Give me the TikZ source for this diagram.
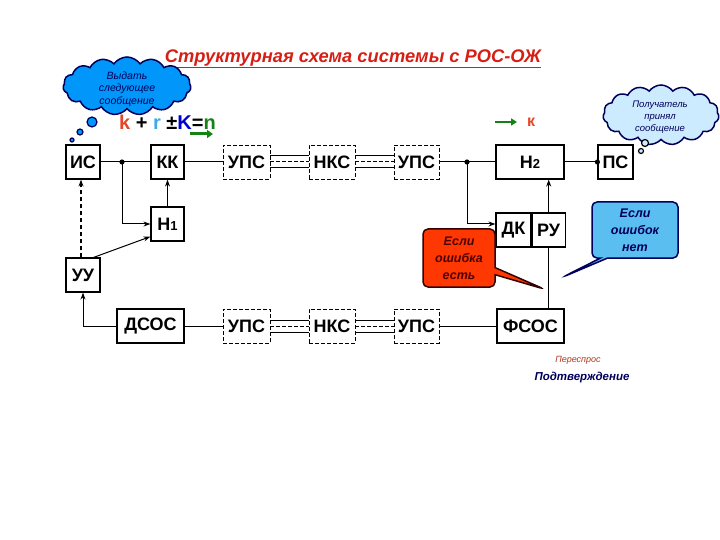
\documentclass[tikz,border=0pt]{standalone}
\usepackage{fontspec}
\setmainfont{Liberation Sans}
\usetikzlibrary{shapes.symbols,shapes.callouts,arrows.meta}

\definecolor{titre}{RGB}{215,30,20}
\definecolor{nuagebleu}{RGB}{0,150,250}
\definecolor{nuageclair}{RGB}{205,235,255}
\definecolor{encre}{RGB}{0,0,90}
\definecolor{alerte}{RGB}{255,55,0}
\definecolor{ciel}{RGB}{90,190,240}
\definecolor{vert}{RGB}{20,130,20}
\definecolor{rouge}{RGB}{230,70,40}
\definecolor{bleuclair}{RGB}{60,170,230}
\definecolor{brique}{RGB}{175,55,30}

\tikzset{
  bloc/.style={draw, line width=1.2pt, minimum height=34pt, inner sep=0pt,
    font=\fontsize{18}{20}\selectfont\bfseries},
  blocpt/.style={bloc, line width=0.9pt, dash pattern=on 4pt off 2pt},
  fil/.style={line width=1pt},
  fleche/.style={fil, -{Stealth[length=7pt,width=5pt]}},
  bulle/.style={rectangle callout, rounded corners=5pt, line width=1.5pt,
    align=center, font=\fontsize{12.5}{17}\selectfont\bfseries\itshape},
  nuage/.style={cloud, cloud puffs=15, cloud puff arc=110, cloud ignores aspect, draw=encre, line width=1.5pt},
}

\newcommand{\canal}[2]{%
  \draw[fil] ([yshift=6pt]#1.east) -- ([yshift=6pt]#2.west);
  \draw[fil] ([yshift=-6pt]#1.east) -- ([yshift=-6pt]#2.west);
  \draw[fil, dash pattern=on 4pt off 2pt] (#1.east) -- (#2.west);}

\begin{document}
\begin{tikzpicture}[x=1pt, y=-1pt]
  \useasboundingbox (0,0) rectangle (720,540);
  % titre
  \node[text=titre, font=\fontsize{18.3}{21}\selectfont\bfseries\itshape] (titre) at (353,59)
    {\underline{Структурная схема системы с РОС-ОЖ}};
  % nuage de gauche
  \node[nuage, fill=nuagebleu, minimum width=128pt, minimum height=58pt] (nuage1) at (127,86) {};
  \node[text=encre, align=center, font=\fontsize{10.5}{12.5}\selectfont\itshape] at (127,89) {Выдать\\следующее\\сообщение};
  \foreach \px/\py/\r in {92/122/5, 80/132/3, 72/140/2}
    \filldraw[fill=nuagebleu, draw=encre, line width=1.2pt] (\px,\py) circle (\r);
  % code (n,k)
  \node[anchor=west, inner sep=0pt, font=\fontsize{20}{22}\selectfont\bfseries] (code) at (119,122)
    {\textcolor{rouge}{k} + \textcolor{bleuclair}{r} ±\textcolor{blue!80!black}{K}=\textcolor{vert}{n}};
  \coordinate (v1) at (190,134);
  \coordinate (v2) at (213,134);
  \draw[vert, line width=3pt, -{Triangle[length=6pt,width=8pt]}] (v1) -- (v2);
  \coordinate (v3) at (495,122);
  \coordinate (v4) at (517,122);
  \draw[vert, line width=2.5pt, -{Triangle[length=6pt,width=7pt]}] (v3) -- (v4);
  \node[text=rouge, font=\fontsize{16}{18}\selectfont\bfseries] (kk0) at (531,122) {к};
  % nuage de droite
  \node[nuage, fill=nuageclair, minimum width=116pt, minimum height=60pt] (nuage2) at (661,115) {};
  \node[text=encre, align=center, font=\fontsize{9.5}{12}\selectfont\itshape] at (660,117) {Получатель\\принял\\сообщение};
  \foreach \px/\py/\r in {645/143/3.5, 641/151/2.5}
    \filldraw[fill=nuageclair, draw=black, line width=1.2pt] (\px,\py) circle (\r);

  % ligne directe
  \node[bloc, minimum width=34pt] (is) at (83,162) {ИС};
  \node[bloc, minimum width=33pt] (kk) at (167.5,162) {КК};
  \node[blocpt, minimum width=47pt] (ups1) at (246.5,162) {УПС};
  \node[blocpt, minimum width=46pt] (nks1) at (332,162) {НКС};
  \node[blocpt, minimum width=45pt] (ups2) at (416.5,162) {УПС};
  \node[bloc, minimum width=68pt] (h2) at (530,162) {Н{\fontsize{13}{14}\selectfont 2}};
  \node[bloc, minimum width=35pt] (ps) at (615.5,162) {ПС};
  \node[bloc, minimum width=33pt] (h1) at (167.5,224) {Н{\fontsize{13}{14}\selectfont 1}};
  \node[bloc, minimum width=35pt] (dk) at (513.5,230) {ДК};
  \node[bloc, minimum width=33pt, anchor=west] (ru) at (dk.east) {РУ};
  \node[bloc, minimum width=34pt] (uu) at (83,275) {УУ};
  % ligne de retour
  \node[bloc, minimum width=67pt] (dsos) at (150.5,326) {ДСОС};
  \node[blocpt, minimum width=47pt] (ups3) at (246.5,326) {УПС};
  \node[blocpt, minimum width=46pt] (nks2) at (332,326) {НКС};
  \node[blocpt, minimum width=45pt] (ups4) at (416.5,326) {УПС};
  \node[bloc, minimum width=67pt] (fsos) at (530.5,326) {ФСОС};

  % points de branchement
  \coordinate (p1) at (122,162);
  \coordinate (p2) at (467,162);
  \fill (p1) circle (2.6);
  \fill (p2) circle (2.6);
  \fill (ps.west) circle (2.6);

  % liaisons
  \draw[fil] (is) -- (kk);
  \draw[fleche] (p1) |- (h1.west);
  \draw[fleche] (h1) -- (kk);
  \draw[fil] (kk) -- (ups1);
  \canal{ups1}{nks1}
  \canal{nks1}{ups2}
  \draw[fil] (ups2) -- (h2);
  \draw[fleche] (p2) |- ([yshift=6pt]dk.west);
  \draw[fil] (h2) -- (ps);
  \draw[fleche] (ru.north) -- (ru.north |- h2.south);
  \draw[fil] (ru.south) -- (ru.south |- fsos.north);
  \draw[fil] (fsos) -- (ups4);
  \canal{nks2}{ups4}
  \canal{ups3}{nks2}
  \draw[fil] (ups3) -- (dsos);
  \draw[fleche] (dsos.west) -| (uu.south);
  \draw[fleche, line width=1.3pt, dash pattern=on 4pt off 3pt] ([xshift=-2pt]uu.north) -- ([xshift=-2pt]is.south);
  \draw[fleche] ([xshift=-7pt]uu.north east) -- ([yshift=5pt]h1.south west);

  % bulles
  \node[bulle, fill=alerte, draw=black!80!red, text=black!70!red, minimum width=72pt, minimum height=58pt,
    callout absolute pointer={(544,289)}] (oui) at (459,258) {Если\\ошибка\\есть};
  \node[bulle, fill=ciel, draw=encre, text=encre, minimum width=86pt, minimum height=56pt,
    callout absolute pointer={(563,277)}] (non) at (635,230) {Если\\ошибок\\нет};

  % annotations
  \node[text=brique, font=\fontsize{9}{11}\selectfont\itshape] (rep) at (578,360) {Переспрос};
  \node[text=encre, font=\fontsize{11.5}{13}\selectfont\bfseries\itshape] (conf) at (582,378) {Подтверждение};
\end{tikzpicture}
\end{document}
